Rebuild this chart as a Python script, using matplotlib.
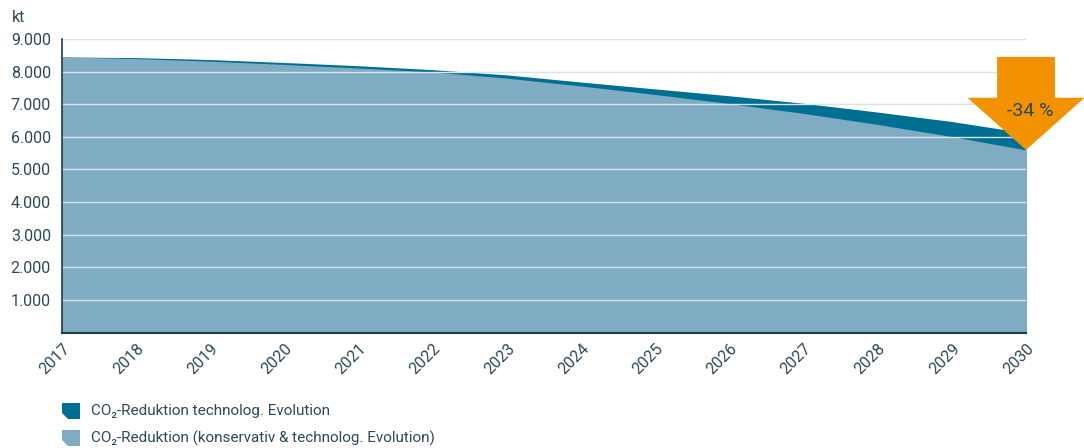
import matplotlib
matplotlib.use("Agg")
from matplotlib import pyplot as plt
from matplotlib.patches import Polygon

plt.rcParams['font.family'] = ['Roboto', 'DejaVu Sans']

years = list(range(2017, 2031))
# upper edge: CO2 reduction technolog. evolution
techno = [8450, 8430, 8370, 8280, 8180, 8060, 7900, 7680, 7470, 7260, 7030, 6760, 6470, 6120]
# lower edge: conservative & technolog. evolution
konserv = [8450, 8400, 8320, 8220, 8110, 7990, 7800, 7560, 7300, 7020, 6720, 6380, 6010, 5600]
y_ticks = [1000, 2000, 3000, 4000, 5000, 6000, 7000, 8000, 9000]
y_labels = ['1.000', '2.000', '3.000', '4.000', '5.000', '6.000', '7.000', '8.000', '9.000']
legend_labels = ['CO₂-Reduktion technolog. Evolution',
                 'CO₂-Reduktion (konservativ & technolog. Evolution)']
arrow_text = '-34 %'

dark = '#006f94'
light = '#7fabc3'
orange = '#f39200'
txt = '#2d4a5a'
gridc = '#d6e4ec'

fig = plt.figure(figsize=(10.84, 4.48), dpi=100)
ax = fig.add_axes([62 / 1084, 1 - 332.6 / 448, 964 / 1084, (332.6 - 39) / 448])

ax.fill_between(years, 0, techno, color=dark, lw=0, zorder=1)
ax.fill_between(years, 0, konserv, color=light, lw=0, zorder=2)

for t in y_ticks:
    ax.axhline(t, color=gridc, lw=1, zorder=3)

ax.set_xlim(years[0], years[-1])
ax.set_ylim(0, 9000)
ax.set_yticks(y_ticks)
ax.set_yticklabels(y_labels, fontsize=11.5, color=txt)
ax.set_xticks(years)
ax.set_xticklabels([str(y) for y in years], rotation=45, ha='right', va='top',
                   rotation_mode='anchor', fontsize=11.5, color=txt)
ax.tick_params(axis='both', length=0, pad=8)
ax.tick_params(axis='x', pad=6)
for s in ['top', 'right']:
    ax.spines[s].set_visible(False)
ax.spines['left'].set_color('#1d3d4d')
ax.spines['bottom'].set_color('#1d3d4d')
ax.spines['left'].set_linewidth(1.2)
ax.spines['bottom'].set_linewidth(1.5)
ax.spines['left'].set_zorder(5)
ax.spines['bottom'].set_zorder(5)

fig.text(12 / 1084, 1 - 18 / 448, 'kt', fontsize=11.5, color=txt, va='center', ha='left')

# orange arrow pointing to the end value
tx, ty = years[-1], konserv[-1]
head_w = 0.79
shaft_w = 0.39
head_h = 1600
arrow = Polygon([(tx, ty), (tx + head_w, ty + head_h), (tx + shaft_w, ty + head_h),
                 (tx + shaft_w, techno[0]), (tx - shaft_w, techno[0]),
                 (tx - shaft_w, ty + head_h), (tx - head_w, ty + head_h)],
                closed=True, color=orange, lw=0, zorder=6, clip_on=False)
ax.add_patch(arrow)
ax.text(tx + 0.06, ty + 1180, arrow_text, fontsize=14, color=txt, ha='center', va='center',
        zorder=7, clip_on=False)

# legend with cut-corner swatches
def swatch(x0, y0, color):
    w, h = 18, 16
    pts = [(x0, y0), (x0 + w, y0), (x0 + w, y0 + h), (x0 + 6, y0 + h), (x0, y0 + h - 6)]
    pts = [(px / 1084, 1 - py / 448) for px, py in pts]
    fig.patches.append(Polygon(pts, closed=True, color=color, lw=0, transform=fig.transFigure))

swatch(62, 403, dark)
swatch(62, 430, light)
fig.text(91 / 1084, 1 - 411 / 448, legend_labels[0], fontsize=11, color=txt, va='center')
fig.text(91 / 1084, 1 - 438 / 448, legend_labels[1], fontsize=11, color=txt, va='center')

fig.savefig('out.png', dpi=100)
